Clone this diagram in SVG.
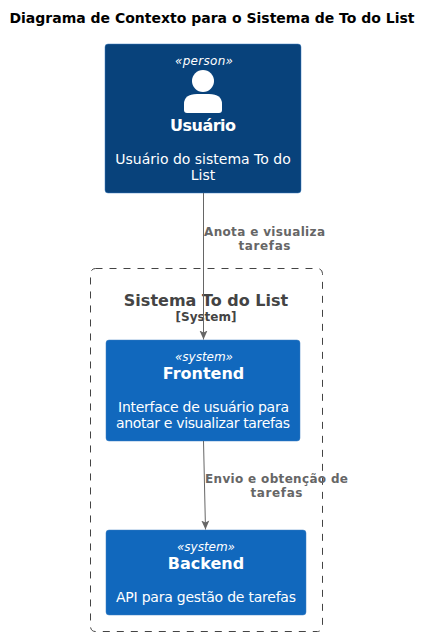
<svg xmlns="http://www.w3.org/2000/svg" width="432" height="636" viewBox="0 0 432 636">
<style>
text{font-family:"DejaVu Sans",sans-serif;text-anchor:middle}
.w{fill:#fff}
.st{font-size:12px;font-style:italic;fill:#fff}
.nm{font-size:16px;font-weight:bold;fill:#fff}
.d{font-size:14px;fill:#fff}
.l{font-size:12px;font-weight:bold;fill:#666}
.c{stroke:#666;fill:none;stroke-width:1}
</style>
<defs><marker id="a" markerUnits="userSpaceOnUse" markerWidth="10" markerHeight="10" refX="9" refY="5" orient="auto"><path d="M0,1 L9,5 L0,9 L2,5 Z" fill="#666"/></marker></defs>
<rect width="432" height="636" fill="#fff"/>
<text x="212" y="23" font-size="14" font-weight="bold" fill="#000">Diagrama de Contexto para o Sistema de To do List</text>
<g id="boundary"><rect x="90.500" y="268.500" width="232" height="363" rx="5" fill="none" stroke="#444" stroke-dasharray="7,7"/>
<text x="206" y="306" font-size="16" font-weight="bold" fill="#444">Sistema To do List</text>
<text x="206" y="321" font-size="12" font-weight="bold" fill="#444">[System]</text></g>
<g id="usuario"><rect x="105" y="44" width="196" height="149" rx="3" fill="#08427B" stroke="#3C7FC0" stroke-width=".5"/>
<text class="st" x="204" y="65" textLength="58">«person»</text>
<circle cx="203" cy="81" r="11" class="w"/>
<path d="M184 110V104Q184 94 197 94H209Q222 94 222 104V110Q222 113 219 113H187Q184 113 184 110Z" class="w"/>
<text class="nm" x="203" y="131" textLength="66">Usuário</text>
<text class="d" x="203" y="164">Usuário do sistema To do</text>
<text class="d" x="203" y="180">List</text></g>
<g id="frontend"><rect x="106" y="340" width="194" height="101" rx="3" fill="#1168BD" stroke="#3C7FC0" stroke-width=".5"/>
<text class="st" x="204" y="361" textLength="58">«system»</text>
<text class="nm" x="203.500" y="379">Frontend</text>
<text class="d" x="203.500" y="412" textLength="171">Interface de usuário para</text>
<text class="d" x="203" y="428" textLength="174">anotar e visualizar tarefas</text></g>
<g id="backend"><rect x="106" y="530" width="200" height="85" rx="3" fill="#1168BD" stroke="#3C7FC0" stroke-width=".5"/>
<text class="st" x="206" y="551" textLength="58">«system»</text>
<text class="nm" x="206" y="569">Backend</text>
<text class="d" x="206" y="602" textLength="180">API para gestão de tarefas</text></g>
<g id="connectors">
<path class="c" d="M203.500 193V339.500" marker-end="url(#a)"/>
<path class="c" d="M203.500 441L205.500 529.500" marker-end="url(#a)"/>
</g>
<g id="labels">
<text class="l" x="264.500" y="236" textLength="121">Anota e visualiza</text>
<text class="l" x="264.500" y="250" textLength="52">tarefas</text>
<text class="l" x="276.500" y="483" textLength="143">Envio e obtenção de</text>
<text class="l" x="276.500" y="497" textLength="52">tarefas</text>
</g>
</svg>
